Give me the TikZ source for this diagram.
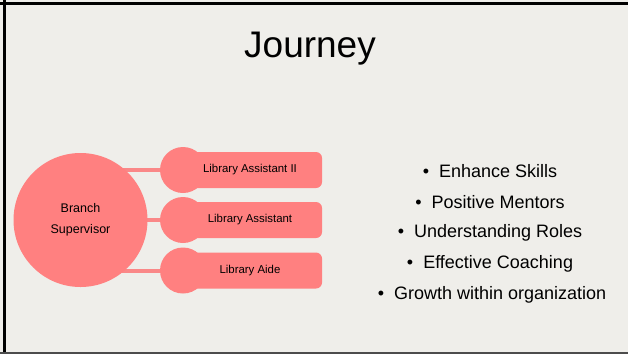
\documentclass[tikz,border=0pt]{standalone}
\usepackage{fontspec}
\setmainfont{Liberation Sans}
\usetikzlibrary{backgrounds}
\definecolor{bg}{RGB}{239,238,234}
\definecolor{salmon}{RGB}{255,128,128}
\definecolor{linkc}{RGB}{250,136,136}
\tikzset{
  bignode/.style={circle,fill=salmon,minimum size=134pt,inner sep=0pt,align=center,font=\fontsize{12.5}{21}\selectfont},
  knob/.style={circle,fill=salmon,minimum size=46pt,inner sep=0pt},
  rolebox/.style={rectangle,rounded corners=6pt,fill=salmon,minimum width=139pt,minimum height=36pt,inner sep=0pt,font=\fontsize{11.4}{13}\selectfont},
  link/.style={draw=linkc,line width=4pt},
  bullet/.style={font=\fontsize{18}{21}\selectfont,anchor=center},
}
\begin{document}
\begin{tikzpicture}[x=1pt,y=-1pt]
\useasboundingbox (0,0) rectangle (628,354);
\begin{scope}[on background layer]
  \fill[bg] (0,0) rectangle (628,354);
  \draw[black,line width=3pt] (0,3.5) -- (628,3.5);
  \draw[black,line width=3pt] (4.5,0) -- (4.5,354);
  \draw[black!70,line width=2pt] (0,353) -- (628,353);
\end{scope}
\node[font=\fontsize{37}{40}\selectfont,anchor=base] (title) at (310,57) {Journey};
\node[bignode] (sup) at (80.5,220) {Branch\\Supervisor};
\node[knob] (k1) at (183,170) {};
\node[knob] (k2) at (183,220) {};
\node[knob] (k3) at (183,270.5) {};
\node[rolebox] (r1) at (252.5,170) {\hspace*{-5pt}Library Assistant II};
\node[rolebox] (r2) at (252.5,220) {\hspace*{-5pt}Library Assistant};
\node[rolebox] (r3) at (252.5,270.5) {\hspace*{-5pt}Library Aide};
\begin{scope}[on background layer]
  \draw[link] (sup.center |- k1.center) -- (k1.center);
  \draw[link] (sup.center |- k2.center) -- (k2.center);
  \draw[link] (sup.center |- k3.center) -- (k3.center);
\end{scope}
\node[bullet] (b1) at (490,171) {\textbullet\ \ Enhance Skills};
\node[bullet] (b2) at (490,202) {\textbullet\ \ Positive Mentors};
\node[bullet] (b3) at (490,233) {\textbullet\ \ Understanding Roles};
\node[bullet] (b4) at (490,264) {\textbullet\ \ Effective Coaching};
\node[bullet] (b5) at (492,294.5) {\textbullet\ \ Growth within organization};
\end{tikzpicture}
\end{document}
